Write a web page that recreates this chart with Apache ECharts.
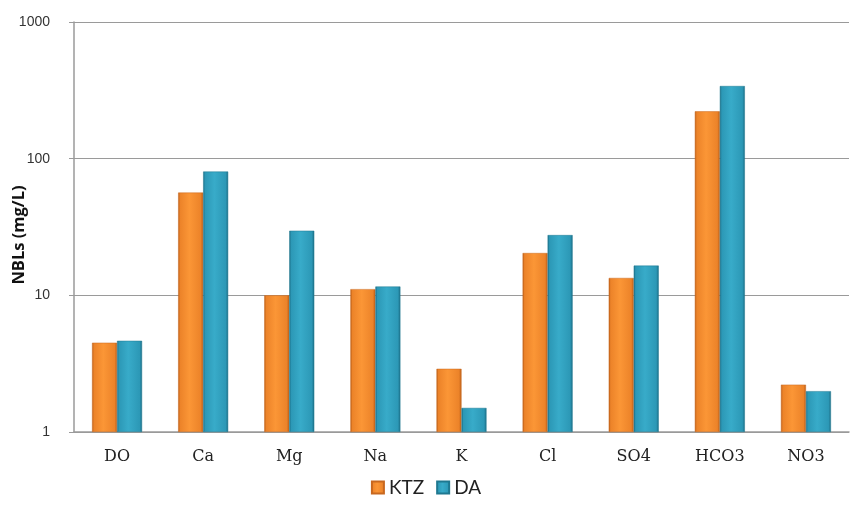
<!DOCTYPE html>
<html>
<head>
<meta charset="utf-8">
<script src="https://cdn.jsdelivr.net/npm/echarts@6/dist/echarts.min.js"></script>
<style>html,body{margin:0;padding:0;background:#fff}#c{width:852px;height:506px}</style>
</head>
<body>
<div id="c"></div>
<script>
const categories = ['DO','Ca','Mg','Na','K','Cl','SO4','HCO3','NO3'];
const ktz = [4.5, 56.5, 10.0, 11.1, 2.9, 20.4, 13.4, 222, 2.22];
const da  = [4.65, 80.5, 29.7, 11.6, 1.5, 27.6, 16.5, 340, 1.99];
const yTicks = [1, 10, 100, 1000];

function grad(light, mid, dark){
  return new echarts.graphic.LinearGradient(0,0,1,0,[
    {offset:0, color:dark},{offset:0.08, color:mid},{offset:0.45, color:light},
    {offset:0.9, color:mid},{offset:1, color:dark}
  ]);
}
const chart = echarts.init(document.getElementById('c'));
chart.setOption({
  animation:false,
  grid:{left:74,right:3,top:22,bottom:74,containLabel:false,outerBoundsMode:'none'},
  legend:{
    data:['KTZ','DA'], bottom:4, left:'center', icon:'rect',
    itemWidth:12,itemHeight:12,itemGap:12,
    textStyle:{fontFamily:'Lato',fontSize:19,color:'#222'}
  },
  xAxis:{
    type:'category', data:categories,
    axisLine:{lineStyle:{color:'#9a9a9a',width:1.5}},
    axisTick:{show:false},
    axisLabel:{fontFamily:'DejaVu Serif',fontSize:16,color:'#222',margin:17}
  },
  yAxis:{
    type:'log', logBase:10, min:1, max:1000,
    name:'NBLs (mg/L)', nameLocation:'middle', nameGap:46, nameMoveOverlap:false,
    nameTextStyle:{fontFamily:'Open Sans',fontWeight:'bold',fontSize:16.5,color:'#111',padding:[0,16,0,0]},
    axisLine:{show:true,lineStyle:{color:'#9a9a9a',width:1.5}},
    axisTick:{show:true,inside:false,length:5,lineStyle:{color:'#9a9a9a'}},
    minorTick:{show:false},
    splitLine:{lineStyle:{color:'#9a9a9a',width:1.2}},
    axisLabel:{fontFamily:'Liberation Sans',fontSize:14,color:'#333',margin:24,
      formatter:v=>yTicks.includes(Math.round(v))?String(Math.round(v)):''}
  },
  series:[
    {name:'KTZ',type:'bar',data:ktz,barWidth:25,barGap:'0%',
     itemStyle:{color:grad('#fb9636','#ec8329','#b85c17'),borderColor:'#c8681f',borderWidth:0.5}},
    {name:'DA',type:'bar',data:da,barWidth:25,
     itemStyle:{color:grad('#38abc9','#2c98b6','#1b6c84'),borderColor:'#1f7890',borderWidth:0.5}}
  ]
});
</script>
</body>
</html>
